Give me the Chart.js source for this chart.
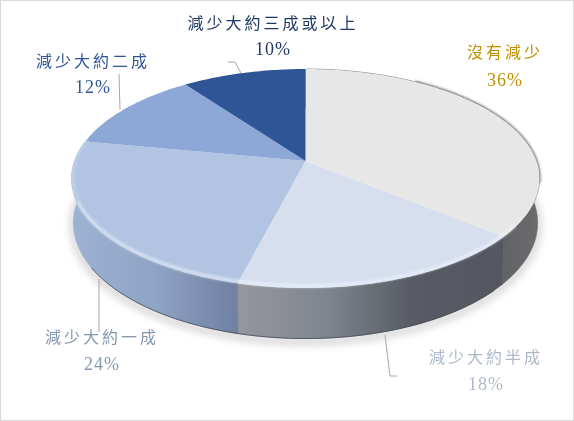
<!DOCTYPE html>
<html>
<head>
<meta charset="utf-8">
<style>
  html, body { margin: 0; padding: 0; background: #fff; }
  #wrap { position: relative; width: 574px; height: 421px; }
  #wrap:after { content: ""; position: absolute; inset: 0; border: 1px solid #d9d9d9; pointer-events: none; }
</style>
<script src="https://cdn.jsdelivr.net/npm/chart.js@4"></script>
</head>
<body>
<div id="wrap"><canvas id="myChart" width="574" height="421"></canvas></div>
<script>
// Datos
const categorias = ["沒有減少", "減少大約半成", "減少大約一成", "減少大約二成", "減少大約三成或以上"];
const valores = [36, 18, 24, 12, 10];
const colores = ["#e7e7e7", "#d7dfee", "#b1c4e1", "#8da7d7", "#2f5597"];
const coloresTexto = ["#bf9000", "#adb9ca", "#8497b0", "#2f5597", "#1f3864"];

// Posicion de cada etiqueta: [x, y nombre, y porcentaje]
const posEtiquetas = [[505, 54, 81], [486, 359, 385], [102, 339, 365], [93, 63, 88], [273, 25, 50]];
// Lineas guia
const guias = [
  [[385, 335], [390, 376], [397, 376]],
  [[99, 279], [99, 332]],
  [[120, 110], [119, 74]],
  [[241, 73], [235, 62], [228, 62]]
];
// Degradado del lateral para cada porcion (x inicial, x final, paradas)
const lateral = [
  [497, 539, ["#606166", "#6c6c6c"]],
  [240, 497, ["#95969e", "#7f868d", "#585b63", "#54575f"]],
  [72, 240, ["#9db2d2", "#8fa3c4", "#6e7fa0"]]
];

// Proyeccion en perspectiva de la tapa
const cx = 305.5, cy = 161, k = 0.16, a = 231, b = 106.7;
function tapa(ang) {
  const u = Math.cos(ang), v = Math.sin(ang), d = 1 - k * v;
  return [cx + a * u / d, cy + b * v / d];
}
function base(ang) {
  const p = tapa(ang);
  return [cx + (p[0] - cx) * 0.992, 223 + (p[1] - 178.5) * 1.055];
}
function arco(ctx, f, ini, fin, mover) {
  const n = Math.max(2, Math.ceil(Math.abs(fin - ini) * 60));
  for (let i = 0; i <= n; i++) {
    const p = f(ini + (fin - ini) * i / n);
    if (i === 0 && mover) ctx.moveTo(p[0], p[1]); else ctx.lineTo(p[0], p[1]);
  }
}

const pie3d = {
  id: "pie3d",
  beforeDatasetDraw(chart) {
    const ctx = chart.ctx;
    const arcs = chart.getDatasetMeta(0).data;

    // sombra bajo el disco
    ctx.save();
    ctx.filter = "blur(4px)";
    ctx.strokeStyle = "rgba(90,90,90,0.38)";
    ctx.lineWidth = 5;
    ctx.beginPath();
    arco(ctx, (t) => { const p = base(t); return [p[0], p[1] + 3]; }, -0.15, Math.PI + 0.15, true);
    ctx.stroke();
    ctx.restore();

    // borde oscuro arriba a la derecha
    ctx.save();
    ctx.filter = "blur(0.8px)";
    ctx.strokeStyle = "#777";
    ctx.lineWidth = 2.2;
    ctx.beginPath();
    arco(ctx, tapa, -1.0, 0.2, true);
    ctx.stroke();
    ctx.restore();

    // lateral
    lateral.forEach((l, i) => {
      const arc = arcs[i];
      const g = ctx.createLinearGradient(l[0], 0, l[1], 0);
      l[2].forEach((c, j) => g.addColorStop(j / (l[2].length - 1), c));
      ctx.fillStyle = g;
      ctx.beginPath();
      arco(ctx, tapa, arc.startAngle, arc.endAngle, true);
      arco(ctx, base, arc.endAngle, arc.startAngle, false);
      ctx.closePath();
      ctx.fill();
      ctx.strokeStyle = g;
      ctx.lineWidth = 0.6;
      ctx.stroke();
    });

    // linea oscura al pie del lateral
    ctx.save();
    ctx.strokeStyle = "rgba(60,66,80,0.75)";
    ctx.lineWidth = 1;
    ctx.beginPath();
    arco(ctx, base, 0.75, 2.6, true);
    ctx.stroke();
    ctx.restore();

    // tapa
    arcs.forEach((arc, i) => {
      ctx.fillStyle = colores[i];
      ctx.beginPath();
      ctx.moveTo(cx, cy);
      arco(ctx, tapa, arc.startAngle, arc.endAngle, false);
      ctx.closePath();
      ctx.fill();
    });

    // brillo del bisel, mas tenue en el lado izquierdo
    ctx.save();
    ctx.filter = "blur(1.5px)";
    ctx.strokeStyle = "rgba(240,246,255,0.8)";
    ctx.lineWidth = 2.5;
    ctx.beginPath();
    arco(ctx, (t) => { const p = tapa(t); return [p[0], p[1] - 2]; }, 0.6, 2.75, true);
    ctx.stroke();
    ctx.strokeStyle = "rgba(225,236,255,0.5)";
    ctx.lineWidth = 2;
    ctx.beginPath();
    arco(ctx, (t) => { const p = tapa(t); return [p[0] + 1.5, p[1] - 1]; }, 2.75, Math.PI + 0.2, true);
    ctx.stroke();
    ctx.restore();

    return false;
  },
  afterDatasetsDraw(chart) {
    const ctx = chart.ctx;
    ctx.save();
    ctx.strokeStyle = "#a6a6a6";
    ctx.lineWidth = 1;
    guias.forEach((g) => {
      ctx.beginPath();
      g.forEach((p, i) => (i ? ctx.lineTo(p[0], p[1]) : ctx.moveTo(p[0], p[1])));
      ctx.stroke();
    });
    ctx.textAlign = "center";
    ctx.textBaseline = "middle";
    categorias.forEach((nombre, i) => {
      const pos = posEtiquetas[i];
      ctx.fillStyle = coloresTexto[i];
      ctx.font = '16px "Liberation Serif", "Noto Sans CJK TC"';
      ctx.letterSpacing = "3px";
      ctx.fillText(nombre, pos[0], pos[1]);
      ctx.font = '18px "Liberation Serif"';
      ctx.letterSpacing = "1px";
      ctx.fillText(valores[i] + "%", pos[0], pos[2]);
    });
    ctx.restore();
  }
};

new Chart(document.getElementById("myChart"), {
  type: "pie",
  data: {
    labels: categorias,
    datasets: [{ data: valores, backgroundColor: colores, borderWidth: 0 }]
  },
  options: {
    responsive: false,
    animation: false,
    plugins: { legend: { display: false }, tooltip: { enabled: false } }
  },
  plugins: [pie3d]
});
</script>
</body>
</html>
